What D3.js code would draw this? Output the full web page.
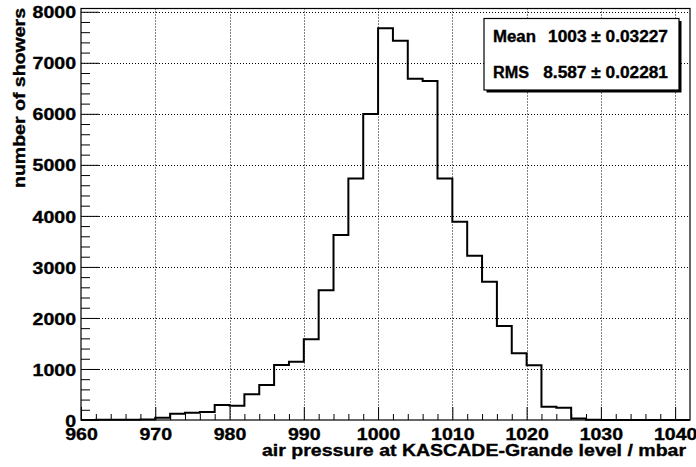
<!DOCTYPE html>
<html>
<head>
<meta charset="utf-8">
<script src="https://cdn.jsdelivr.net/npm/d3@7"></script>
<style>
  body { margin: 0; background: #fff; }
  text { font-family: "Liberation Sans", Arial, Helvetica, sans-serif; font-weight: bold;
         stroke: #000; stroke-width: 0.35px; }
</style>
</head>
<body>
<svg id="chart"></svg>
<script>
// bin lower edges, 2 mbar wide
var binEdges = d3.range(960, 1042, 2);
var counts = [2, 3, 4, 6, 12, 45, 123, 143, 157, 294,
  281, 503, 686, 1078, 1143, 1581, 2541, 3625, 4735, 5997,
  7675, 7433, 6688, 6642, 4735, 3886, 3219, 2710, 1842, 1307,
  1071, 261, 241, 30, 5, 1, 0, 0, 0, 0, 0];
var xTicks = [960, 970, 980, 990, 1000, 1010, 1020, 1030, 1040];
var yTicks = [0, 1000, 2000, 3000, 4000, 5000, 6000, 7000, 8000];
var statLabels = ["Mean", "RMS"];
var statValues = ["1003", "8.587"];
var statErrors = ["0.03227", "0.02281"];

var width = 696, height = 467;
var margin = { top: 8.5, right: 6, bottom: 47, left: 81 };
// the original text is drawn a bit wider than the font
var stretch = 1.15;

var svg = d3.select("#chart")
  .attr("width", width)
  .attr("height", height);

var x = d3.scaleLinear()
  .domain([960, 1042])
  .range([margin.left, width - margin.right]);
var y = d3.scaleLinear()
  .domain([0, 8064])
  .range([height - margin.bottom, margin.top]);

var x0 = x.range()[0], x1 = x.range()[1];
var y0 = y.range()[0], y1 = y.range()[1];

// dotted grid
svg.append("g")
  .selectAll("line")
  .data(xTicks.slice(1))
  .join("line")
  .attr("x1", d => Math.round(x(d)) + 0.5)
  .attr("x2", d => Math.round(x(d)) + 0.5)
  .attr("y1", y1).attr("y2", y0)
  .attr("stroke", "#000")
  .attr("stroke-dasharray", "1,2");
svg.append("g")
  .selectAll("line")
  .data(yTicks.slice(1))
  .join("line")
  .attr("y1", d => Math.round(y(d)) + 0.5)
  .attr("y2", d => Math.round(y(d)) + 0.5)
  .attr("x1", x0).attr("x2", x1)
  .attr("stroke", "#000")
  .attr("stroke-dasharray", "1,2");

// histogram outline
var pts = binEdges.map((e, i) => [e, counts[i]]);
pts.push([1042, counts[counts.length - 1]]);
var line = d3.line()
  .x(d => x(d[0]))
  .y(d => y(d[1]))
  .curve(d3.curveStepAfter);
svg.append("path")
  .attr("d", line(pts))
  .attr("fill", "none")
  .attr("stroke", "#000")
  .attr("stroke-width", 2);

// frame
svg.append("rect")
  .attr("x", x0).attr("y", y1)
  .attr("width", x1 - x0).attr("height", y0 - y1)
  .attr("fill", "none")
  .attr("stroke", "#000")
  .attr("stroke-width", 1.2);

// x axis
var xMinor = d3.range(960, 1042, 2).filter(d => d % 10 != 0);
svg.append("g")
  .attr("transform", `translate(0,${y0})`)
  .call(d3.axisBottom(x).tickValues(xMinor).tickSize(-6).tickFormat(""))
  .call(g => g.select(".domain").remove());
var gx = svg.append("g")
  .attr("transform", `translate(0,${y0})`)
  .call(d3.axisBottom(x).tickValues(xTicks).tickSize(-13).tickFormat(d3.format("d")))
  .call(g => g.select(".domain").remove());
gx.selectAll("text")
  .attr("y", 20)
  .attr("dy", 0)
  .attr("transform", `scale(${stretch},1)`)
  .attr("fill", "#000")
  .style("font-size", "17px")
  .style("font-family", "'Liberation Sans', Arial, sans-serif")
  .style("font-weight", "bold");

// y axis
var yMinor = d3.range(0, 8001, 200).filter(d => d % 1000 != 0);
svg.append("g")
  .attr("transform", `translate(${x0},0)`)
  .call(d3.axisLeft(y).tickValues(yMinor).tickSize(-9).tickFormat(""))
  .call(g => g.select(".domain").remove());
var gy = svg.append("g")
  .attr("transform", `translate(${x0},0)`)
  .call(d3.axisLeft(y).tickValues(yTicks).tickSize(-18).tickFormat(d3.format("d")))
  .call(g => g.select(".domain").remove());
gy.selectAll("text")
  .attr("x", -5 / stretch)
  .attr("dy", "0.36em")
  .attr("transform", `scale(${stretch},1)`)
  .attr("fill", "#000")
  .style("font-size", "17px")
  .style("font-family", "'Liberation Sans', Arial, sans-serif")
  .style("font-weight", "bold");
svg.selectAll(".tick line").attr("stroke", "#000");

// axis titles
svg.append("text")
  .attr("x", 262).attr("y", 456)
  .attr("textLength", 424)
  .attr("lengthAdjust", "spacingAndGlyphs")
  .style("font-size", "16px")
  .text("air pressure at KASCADE-Grande level / mbar");
svg.append("text")
  .attr("transform", "translate(25,188) rotate(-90)")
  .attr("textLength", 180)
  .attr("lengthAdjust", "spacingAndGlyphs")
  .style("font-size", "16px")
  .text("number of showers");

// stats box
var bx = 484, by = 18.5, bw = 195, bh = 71.5;
svg.append("rect")
  .attr("x", bx + 2.5).attr("y", by + 2.5)
  .attr("width", bw).attr("height", bh)
  .attr("fill", "#000");
svg.append("rect")
  .attr("x", bx).attr("y", by)
  .attr("width", bw).attr("height", bh)
  .attr("fill", "#fff")
  .attr("stroke", "#000")
  .attr("stroke-width", 1.2);
var rows = svg.append("g")
  .selectAll("g")
  .data(statLabels)
  .join("g")
  .attr("transform", (d, i) => `translate(0,${42 + i * 36})`);
rows.append("text")
  .attr("x", 493)
  .attr("textLength", (d, i) => i == 0 ? 43 : 36)
  .attr("lengthAdjust", "spacingAndGlyphs")
  .style("font-size", "16px")
  .text(d => d);
rows.append("text")
  .attr("x", 668)
  .attr("text-anchor", "end")
  .style("font-size", "16px")
  .attr("transform", "translate(668,0) scale(1.08,1) translate(-668,0)")
  .text((d, i) => statValues[i] + " \u00b1 " + statErrors[i]);
</script>
</body>
</html>
